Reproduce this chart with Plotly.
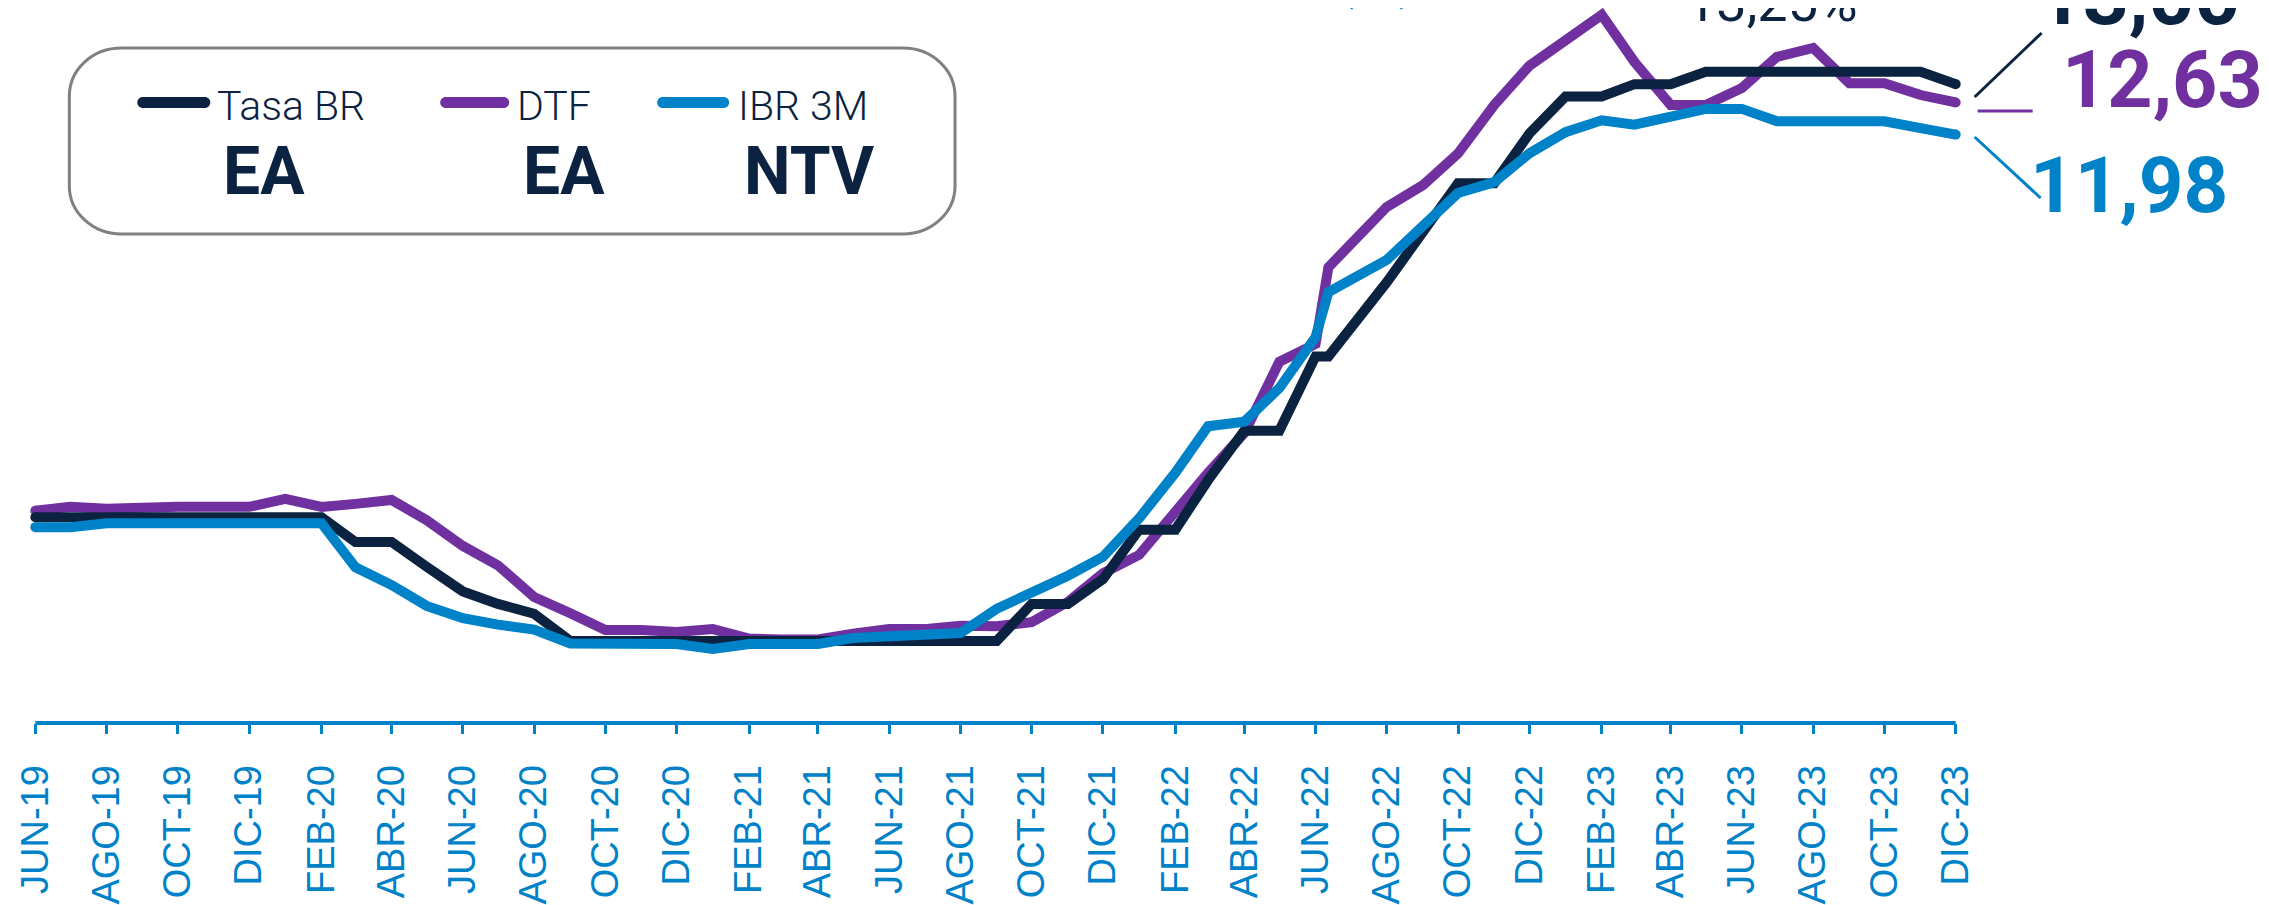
import datetime as dt
import plotly.graph_objects as go

# ---------------- data ----------------
fechas = [
    "2019-06-01", "2019-07-01", "2019-08-01", "2019-09-01", "2019-10-01", "2019-11-01", "2019-12-01",
    "2020-01-01", "2020-02-01", "2020-03-01", "2020-04-01", "2020-05-01", "2020-06-01", "2020-07-01",
    "2020-08-01", "2020-09-01", "2020-10-01", "2020-11-01", "2020-12-01",
    "2021-01-01", "2021-02-01", "2021-03-01", "2021-04-01", "2021-05-01", "2021-06-01", "2021-07-01",
    "2021-08-01", "2021-09-01", "2021-10-01", "2021-11-01", "2021-12-01",
    "2022-01-01", "2022-02-01", "2022-03-01", "2022-04-01", "2022-05-01", "2022-06-01", "2022-06-12",
    "2022-08-01", "2022-09-01", "2022-10-01", "2022-11-01", "2022-12-01",
    "2023-01-01", "2023-02-01", "2023-03-01", "2023-04-01", "2023-05-01", "2023-06-01", "2023-07-01",
    "2023-08-01", "2023-09-01", "2023-10-01", "2023-11-01", "2023-12-01",
]

tasa_br = [
    4.25, 4.25, 4.25, 4.25, 4.25, 4.25, 4.25, 4.25, 4.25,
    3.75, 3.75, 3.25, 2.75, 2.50, 2.30, 1.75,
    1.75, 1.75, 1.75, 1.75, 1.75, 1.75, 1.75, 1.75, 1.75, 1.75, 1.75, 1.75,
    2.50, 2.50, 3.00, 4.00, 4.00, 5.00, 6.00, 6.00, 7.50, 7.50, 9.00, 10.00,
    11.00, 11.00, 12.00, 12.75, 12.75, 13.00, 13.00,
    13.25, 13.25, 13.25, 13.25, 13.25, 13.25, 13.25, 13.00,
]

dtf = [
    4.38, 4.46, 4.42, 4.46, 4.46, 4.46, 4.46, 4.62, 4.46,
    4.52, 4.60, 4.19, 3.67, 3.28, 2.64, 2.31,
    1.97, 1.97, 1.93, 1.99, 1.80, 1.78, 1.78, 1.90, 1.99, 1.99, 2.06, 2.05,
    2.13, 2.54, 3.12, 3.49, 4.40, 5.15, 5.95, 7.39, 7.75, 9.30, 10.52, 10.96,
    11.60, 12.58, 13.37, 13.88, 14.40, 13.45, 12.58,
    12.58, 12.92, 13.55, 13.73, 13.02, 13.02, 12.78, 12.63,
]

ibr_3m = [
    4.05, 4.05, 4.13, 4.13, 4.13, 4.13, 4.13, 4.13, 4.13,
    3.24, 2.88, 2.46, 2.21, 2.08, 1.98, 1.70,
    1.69, 1.69, 1.69, 1.59, 1.69, 1.69, 1.69, 1.81, 1.85, 1.85, 1.91, 2.40,
    2.72, 3.07, 3.45, 4.23, 5.15, 6.09, 6.18, 6.86, 7.89, 8.80, 9.45, 10.11,
    10.80, 11.02, 11.60, 12.03, 12.27, 12.18, 12.35,
    12.50, 12.50, 12.25, 12.25, 12.25, 12.25, 12.11, 11.98,
]

tick_fechas = [
    "2019-06-01", "2019-08-01", "2019-10-01", "2019-12-01", "2020-02-01", "2020-04-01", "2020-06-01",
    "2020-08-01", "2020-10-01", "2020-12-01", "2021-02-01", "2021-04-01", "2021-06-01", "2021-08-01",
    "2021-10-01", "2021-12-01", "2022-02-01", "2022-04-01", "2022-06-01", "2022-08-01", "2022-10-01",
    "2022-12-01", "2023-02-01", "2023-04-01", "2023-06-01", "2023-08-01", "2023-10-01", "2023-12-01",
]
tick_etiquetas = [
    "JUN-19", "AGO-19", "OCT-19", "DIC-19", "FEB-20", "ABR-20", "JUN-20", "AGO-20", "OCT-20", "DIC-20",
    "FEB-21", "ABR-21", "JUN-21", "AGO-21", "OCT-21", "DIC-21", "FEB-22", "ABR-22", "JUN-22", "AGO-22",
    "OCT-22", "DIC-22", "FEB-23", "ABR-23", "JUN-23", "AGO-23", "OCT-23", "DIC-23",
]

series = [("DTF", dtf), ("Tasa BR", tasa_br), ("IBR 3M", ibr_3m)]
unidades = {"Tasa BR": "EA", "DTF": "EA", "IBR 3M": "NTV"}
etiqueta_final = {"Tasa BR": "13,00", "DTF": "12,63", "IBR 3M": "11,98"}
maximo_br = "13,25%"
unidad_titulo = "(%)"

# ---------------- style / geometry ----------------
NAVY = "#0B2240"
PURPLE = "#7030A0"
BLUE = "#0082C9"
colores = {"Tasa BR": NAVY, "DTF": PURPLE, "IBR 3M": BLUE}
LW = 10

SCREEN_W, SCREEN_H = 2269, 905
OFF = 8                                # page body margin
W, H = SCREEN_W - OFF, SCREEN_H - OFF  # figure size
X_START_PX, X_END_PX = 35, 1956        # screen px of JUN-19 and DIC-23 ticks
AXIS_PX = 723                          # screen px of x axis line
PAD_DAYS = 8

d0 = dt.date(2019, 6, 1)
d1 = dt.date(2023, 12, 1)
px_per_day = (X_END_PX - X_START_PX) / (d1 - d0).days
pad_px = PAD_DAYS * px_per_day
m_l = (X_START_PX - OFF) - pad_px
m_r = W - ((X_END_PX - OFF) + pad_px)
m_t = 0
m_b = H - (AXIS_PX - OFF)
rng_x = [str(d0 - dt.timedelta(days=PAD_DAYS)), str(d1 + dt.timedelta(days=PAD_DAYS))]
Y_REF_PX, Y_REF_VAL, PX_PER_PT = 641 - OFF, 1.75, 49.5
y_top = Y_REF_VAL + (Y_REF_PX - m_t) / PX_PER_PT
y_bot = Y_REF_VAL - ((AXIS_PX - OFF) - Y_REF_PX) / PX_PER_PT

plot_x0, plot_x1 = m_l, W - m_r
plot_y0, plot_y1 = m_t, H - m_b


def px(x):  # screen px -> paper
    return (x - OFF - plot_x0) / (plot_x1 - plot_x0)


def py(y):  # screen px -> paper
    return (plot_y1 - (y - OFF)) / (plot_y1 - plot_y0)


fig = go.Figure()
for nombre, vals in series:
    fig.add_trace(go.Scatter(
        x=fechas, y=vals, mode="lines", name=nombre,
        line=dict(color=colores[nombre], width=LW),
        showlegend=False, hoverinfo="skip",
    ))
    fig.add_trace(go.Scatter(
        x=[fechas[0], fechas[-1]], y=[vals[0], vals[-1]], mode="markers",
        marker=dict(color=colores[nombre], size=LW, line=dict(width=0)),
        showlegend=False, hoverinfo="skip", cliponaxis=False,
    ))

shapes = []
annotations = []

shapes.append(dict(type="line", xref="x", yref="paper", x0=fechas[0], x1=fechas[-1], y0=0, y1=0,
                   line=dict(color=BLUE, width=4), layer="above"))


def rounded_rect(x0, y0, x1, y1, rx, ry):
    k = 0.5523
    P = lambda x, y: f"{px(x):.5f},{py(y):.5f}"
    return (f"M {P(x0 + rx, y0)} L {P(x1 - rx, y0)} "
            f"C {P(x1 - rx + k * rx, y0)} {P(x1, y0 + ry - k * ry)} {P(x1, y0 + ry)} "
            f"L {P(x1, y1 - ry)} "
            f"C {P(x1, y1 - ry + k * ry)} {P(x1 - rx + k * rx, y1)} {P(x1 - rx, y1)} "
            f"L {P(x0 + rx, y1)} "
            f"C {P(x0 + rx - k * rx, y1)} {P(x0, y1 - ry + k * ry)} {P(x0, y1 - ry)} "
            f"L {P(x0, y0 + ry)} "
            f"C {P(x0, y0 + ry - k * ry)} {P(x0 + rx - k * rx, y0)} {P(x0 + rx, y0)} Z")


shapes.append(dict(type="path", xref="paper", yref="paper",
                   path=rounded_rect(69, 48, 955, 234, 52, 48),
                   line=dict(color="#808080", width=3), fillcolor="rgba(0,0,0,0)"))

leyenda = [  # (name, swatch x0, swatch x1, text x)
    ("Tasa BR", 137, 210, 215),
    ("DTF", 440, 509, 515),
    ("IBR 3M", 657, 729, 736),
]
for nombre, sx0, sx1, tx in leyenda:
    shapes.append(dict(type="path", xref="paper", yref="paper",
                       path=rounded_rect(sx0, 97, sx1, 108, 5.5, 5.5),
                       line=dict(width=0), fillcolor=colores[nombre]))
    annotations.append(dict(xref="paper", yref="paper", x=px(tx), y=py(106), text=nombre,
                            showarrow=False, xanchor="left", yanchor="middle",
                            font=dict(family="Roboto", size=41, color=NAVY, weight=300)))
    annotations.append(dict(xref="paper", yref="paper", x=px(tx + 6), y=py(171),
                            text=f"<b>{unidades[nombre]}</b>",
                            showarrow=False, xanchor="left", yanchor="middle",
                            font=dict(family="Roboto", size=66, color=NAVY)))

finales = [  # name, text left px, cap centre px, size
    ("Tasa BR", 2035, -3, 80),
    ("DTF", 2060, 80, 79),
    ("IBR 3M", 2028, 185, 78),
]
for nombre, tx, ty, fs in finales:
    annotations.append(dict(xref="paper", yref="paper", x=px(tx), y=py(ty),
                            text=f"<b>{etiqueta_final[nombre]}</b>", showarrow=False,
                            xanchor="left", yanchor="middle",
                            font=dict(family="Roboto", size=fs, color=colores[nombre])))

shapes.append(dict(type="line", xref="paper", yref="paper", x0=px(1975), y0=py(97), x1=px(2042), y1=py(33),
                   line=dict(color=NAVY, width=3)))
shapes.append(dict(type="line", xref="paper", yref="paper", x0=px(1978), y0=py(111), x1=px(2033), y1=py(111),
                   line=dict(color=PURPLE, width=3)))
shapes.append(dict(type="line", xref="paper", yref="paper", x0=px(1975), y0=py(137), x1=px(2041), y1=py(198),
                   line=dict(color=BLUE, width=3)))

annotations.append(dict(xref="paper", yref="paper", x=px(1684), y=py(3), text=maximo_br, showarrow=False,
                        xanchor="left", yanchor="middle",
                        font=dict(family="Roboto", size=54, color=NAVY)))
annotations.append(dict(xref="paper", yref="paper", x=px(1332), y=py(-24), text=unidad_titulo,
                        showarrow=False, xanchor="left", yanchor="middle",
                        font=dict(family="Roboto", size=60, color=BLUE)))

fig.update_layout(
    width=W, height=H, autosize=False,
    margin=dict(l=m_l, r=m_r, t=m_t, b=m_b, pad=0, autoexpand=False),
    paper_bgcolor="white", plot_bgcolor="white",
    shapes=shapes, annotations=annotations,
    showlegend=False,
    xaxis=dict(
        type="date", range=rng_x, showgrid=False, zeroline=False, showline=False,
        tickmode="array", tickvals=tick_fechas, ticktext=tick_etiquetas,
        tickangle=-90, ticks="outside", ticklen=10, tickwidth=3, tickcolor=BLUE,
        tickfont=dict(family="Liberation Sans", size=38, color=BLUE),
        ticklabelstandoff=16, automargin=False,
        fixedrange=True,
    ),
    yaxis=dict(range=[y_bot, y_top], visible=False, fixedrange=True, automargin=False),
)

fig.write_html("out.html")
